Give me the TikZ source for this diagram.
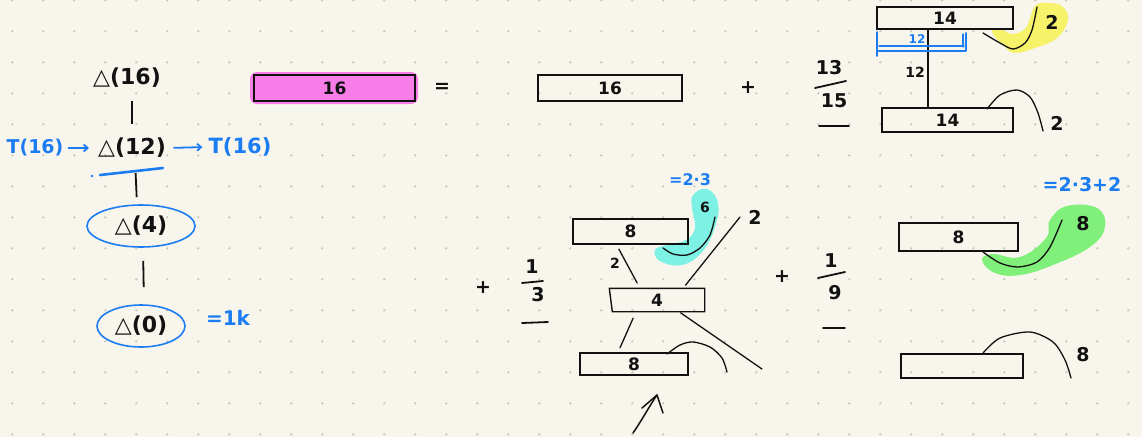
\documentclass[tikz,border=0pt]{standalone}
\usepackage{fontspec}
\setmainfont{DejaVu Sans}
\usetikzlibrary{arrows.meta,calc,shapes.geometric}
\definecolor{paper}{HTML}{F8F6EC}
\definecolor{dotc}{HTML}{C9C9C4}
\definecolor{pen}{HTML}{111111}
\definecolor{bluepen}{HTML}{1C7CF2}
\definecolor{hlmag}{HTML}{F77DE8}
\definecolor{hlyel}{HTML}{F6F26A}
\definecolor{hlcyan}{HTML}{7CF1E4}
\definecolor{hlgreen}{HTML}{80F07A}
\newcommand{\fsz}[1]{\fontsize{#1}{#1}\selectfont\bfseries}
\begin{document}
\begin{tikzpicture}[x=1pt,y=-1pt,
  bar/.style={draw=pen, line width=1.4pt, inner sep=0pt, font=\fsz{17}, text=pen},
  big/.style={font=\fsz{22}, text=pen, inner sep=2pt},
  bigblue/.style={font=\fsz{21}, text=bluepen, inner sep=2pt},
  mid/.style={font=\fsz{19}, text=pen, inner sep=1pt},
  small/.style={font=\fsz{14}, text=pen, inner sep=1pt},
  smallblue/.style={font=\fsz{17}, text=bluepen, inner sep=1pt},
  ring/.style={ellipse, draw=bluepen, line width=1.6pt, inner sep=0pt},
  tick/.style={draw=pen, line width=1.8pt},
  ink/.style={draw=pen, line width=1.3pt, line cap=round},
  blueink/.style={draw=bluepen, line width=1.8pt, line cap=round, -{Straight Barb[length=4pt,width=7pt]}},
  fracbar/.style={draw=pen, line width=1.8pt, line cap=round}
]
\useasboundingbox (0,0) rectangle (1142,437);
\fill[paper] (0,0) rectangle (1142,437);
\foreach \i in {0,...,36}{\foreach \j in {0,...,14}{\fill[dotc] (12.3+31*\i,0.3+31*\j) circle (1.3);}}

% ---------- left column ----------
\node[big] (d16) at (127,78) {△(16)};
\node[big] (d12) at (132,148) {△(12)};
\node[big, ring, minimum width=108, minimum height=42] (d4) at (141,226) {△(4)};
\node[big, ring, minimum width=88, minimum height=42] (d0) at (141,326) {△(0)};
\node[bigblue, font=\fsz{19}] (tl) at (35,148) {T(16)};
\node[bigblue] (tr) at (240,147) {T(16)};
\node[font=\fsz{20}, text=bluepen] (eq1k) at (228,318) {=1k};
\draw[tick, shorten <=11, shorten >=12] ($(d16.south)+(5,0)$) -- (d12.north);
\draw[tick, shorten <=13, shorten >=7] ($(d12.south)+(3,0)$) -- ($(d4.north)+(-4,0)$);
\draw[tick, shorten <=13, shorten >=17] ($(d4.south)+(2,0)$) -- ($(d0.north)+(3,0)$);
\draw[blueink, shorten <=3, shorten >=7] (tl.east) -- (d12.west);
\draw[blueink, shorten <=6, shorten >=4] (d12.east) -- (tr.west);
\draw[draw=bluepen, line width=2.6pt, line cap=round] (100,175) -- (163,168);
\fill[bluepen] (92,176) circle (1.3);

% ---------- top row ----------
\fill[hlmag, rounded corners=7] (250,72) rectangle (418,104);
\node[bar, minimum width=161, minimum height=26] (m16) at (334.5,88) {16};
\node[mid] (eq) at (442,88) {=};
\node[bar, minimum width=144, minimum height=26] (b16) at (610,88) {16};
\node[mid] (p1) at (748,88) {+};
\node[mid] (n13) at (829,68) {13};
\node[mid] (n15) at (834,101) {15};
\draw[fracbar] (815,88) -- (846,81);
\draw[fracbar] (819,126) -- (849,126);

% top-right I-beam
\fill[hlyel] plot[smooth cycle, tension=0.7] coordinates {(992,32) (1004,46) (1015,53) (1035,48) (1057,38) (1068,20) (1063,7) (1050,3) (1036,5) (1030,18) (1025,29) (1012,34) (1000,29)};
\node[bar, minimum width=136, minimum height=22] (t14) at (945,18) {14};
\node[bar, minimum width=131, minimum height=24] (b14) at (947.5,120) {14};
\draw[draw=pen, line width=1.3pt] (t14.south -| 928,0) -- (b14.north -| 928,0);
\node[small] (l12) at (915,72) {12};
\draw[ink] plot[smooth] coordinates {(983,33) (1000,43) (1013,49) (1025,43) (1032,30) (1037,7)};
\node[mid] (two1) at (1052,22) {2};
\draw[ink] plot[smooth] coordinates {(987,109) (1000,95) (1017,90) (1030,97) (1038,113) (1043,131)};
\node[mid] (two2) at (1057,123) {2};
% blue bracket
\draw[draw=bluepen, line width=1.6pt, line cap=round, line join=round] (877,32) -- (877,56);
\draw[draw=bluepen, line width=1.6pt, line cap=round, line join=round] (877,51) -- (966,51) -- (966,33);
\draw[draw=bluepen, line width=1.3pt, line cap=round] (879,46) -- (964,46);
\draw[draw=bluepen, line width=1.3pt, line cap=round] (963,34) -- (963,47);
\node[font=\fsz{12}, text=bluepen, inner sep=0pt] (bl12) at (917,39) {12};

% ---------- middle bottom ----------
\node[mid] (p2) at (483,288) {+};
\node[mid] (n1a) at (532,267) {1};
\node[mid] (n3) at (538,295) {3};
\draw[fracbar] (522,283) -- (543,281);
\draw[fracbar] (522,323) -- (548,322);

\fill[hlcyan] plot[smooth cycle, tension=0.7] coordinates {(693,195) (707,189) (718,203) (715,227) (702,252) (682,265) (660,261) (655,250) (667,245) (686,240) (695,228) (692,208)};
\node[smallblue, font=\fsz{16}] (eq23) at (690,180) {=2·3};
\node[bar, minimum width=115, minimum height=25] (t8) at (630.5,231.5) {8};
\node[bar, draw=none, minimum width=94, minimum height=22] (b4) at (657,300) {4};
\draw[draw=pen, line width=1.4pt] (b4.north west) -- (b4.north east) -- (b4.south east) -- ($(b4.south west)+(3,0)$) -- cycle;
\node[bar, minimum width=108, minimum height=22] (bt8) at (634,364) {8};
\node[small] (six) at (705,207) {6};
\draw[ink] plot[smooth] coordinates {(663,248) (673,254) (687,255) (700,248) (710,235) (715,217)};
\draw[ink, shorten <=5, shorten >=6] ($(t8.south)+(-14,0)$) -- ($(b4.north)+(-17,0)$);
\node[small] (l2a) at (615,263) {2};
\coordinate (c2end) at (740,217);
\draw[ink, shorten <=4] ($(b4.north)+(26,0)$) -- (c2end);
\node[mid] (l2b) at (755,217) {2};
\draw[ink, shorten <=7, shorten >=5] ($(b4.south)+(-21,0)$) -- ($(bt8.north)+(-16,0)$);
\coordinate (cdr) at (762,369);
\draw[ink, shorten <=2] ($(b4.south)+(22,0)$) -- (cdr);
\draw[ink] plot[smooth] coordinates {(667,354) (680,345) (693,342) (710,347) (722,358) (727,372)};
\coordinate (arrtail) at (633,433);
\coordinate (arrtip) at (657,395);
\draw[ink, line width=1.5pt] (arrtail) .. controls (642,420) and (650,405) .. (arrtip);
\draw[ink, line width=1.5pt, line join=round] (642,408) -- (arrtip) -- (663,413);

% ---------- right bottom ----------
\node[mid] (p3) at (782,277) {+};
\node[mid] (n1b) at (831,261) {1};
\node[mid] (n9) at (835,293) {9};
\draw[fracbar] (818,278) -- (845,272);
\draw[fracbar] (823,328) -- (845,328);
\fill[hlgreen] plot[smooth cycle, tension=0.7] coordinates {(982,260) (995,273) (1020,275) (1053,265) (1090,247) (1105,227) (1097,208) (1067,206) (1050,220) (1046,238) (1020,257) (993,254)};
\node[smallblue, font=\fsz{19}] (eq232) at (1082,185) {=2·3+2};
\node[bar, minimum width=119, minimum height=28] (r8) at (958.5,237) {8};
\node[bar, minimum width=122, minimum height=24] (rb) at (962,366) {};
\draw[ink] plot[smooth] coordinates {(983,252) (1000,263) (1018,267) (1037,262) (1050,247) (1062,220)};
\node[mid] (e8a) at (1083,224) {8};
\draw[ink] plot[smooth] coordinates {(983,353) (1000,338) (1030,332) (1053,342) (1065,360) (1071,378)};
\node[mid] (e8b) at (1083,355) {8};
\end{tikzpicture}
\end{document}
